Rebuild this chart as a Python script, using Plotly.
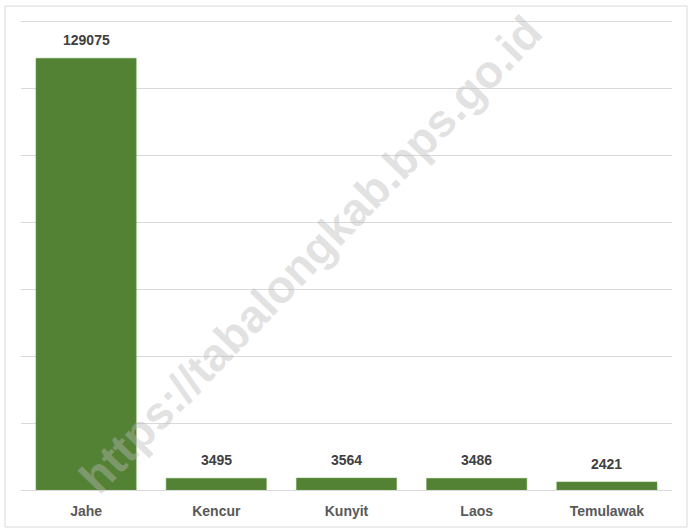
import plotly.graph_objects as go

# Production by commodity
categories = ["Jahe", "Kencur", "Kunyit", "Laos", "Temulawak"]
values = [129075, 3495, 3564, 3486, 2421]
value_labels = ["129075", "3495", "3564", "3486", "2421"]

W, H = 689, 530
ml, mr, mt, mb = 21, 17, 20, 40
pw, ph = W - ml - mr, H - mt - mb

fig = go.Figure(
    go.Bar(
        x=categories,
        y=values,
        marker=dict(color="#548235", line=dict(color="#6a9a4a", width=0.5)),
        width=0.77,
        hoverinfo="x+y",
    )
)

# Value labels sit a little above each bar
label_annotations = [
    dict(
        x=c,
        y=v,
        text=t,
        xref="x",
        yref="y",
        yanchor="bottom",
        yshift=8,
        showarrow=False,
        font=dict(family="Liberation Sans", size=14, color="#404040", weight="bold"),
    )
    for c, v, t in zip(categories, values, value_labels)
]

watermark = dict(
    text="https://tabalongkab.bps.go.id",
    xref="paper",
    yref="paper",
    x=(310 - ml) / pw,
    y=(H - mb - 255) / ph,
    showarrow=False,
    textangle=-46,
    font=dict(family="Liberation Sans", size=46, color="rgba(185,185,185,0.42)", weight="bold"),
)

fig.update_layout(
    width=W,
    height=H,
    margin=dict(l=ml, r=mr, t=mt, b=mb),
    paper_bgcolor="white",
    plot_bgcolor="white",
    showlegend=False,
    bargap=0.23,
    font=dict(family="Liberation Sans"),
    xaxis=dict(
        showgrid=False,
        showline=True,
        linecolor="#d9d9d9",
        linewidth=1,
        ticks="",
        ticklabelstandoff=8,
        tickfont=dict(family="Liberation Sans", size=14, color="#595959", weight="bold"),
    ),
    yaxis=dict(
        range=[0, 140500],
        tick0=0,
        dtick=20000,
        showgrid=True,
        gridcolor="#d9d9d9",
        gridwidth=1,
        showticklabels=False,
        zeroline=False,
        ticks="",
    ),
    shapes=[
        dict(
            type="rect",
            xref="paper",
            yref="paper",
            x0=(5 - ml) / pw,
            x1=(687 - ml) / pw,
            y0=(H - mb - 527) / ph,
            y1=(H - mb - 6) / ph,
            line=dict(color="#d9d9d9", width=1),
            fillcolor="rgba(0,0,0,0)",
            layer="below",
        )
    ],
    annotations=label_annotations + [watermark],
)

fig.write_html("out.html")
